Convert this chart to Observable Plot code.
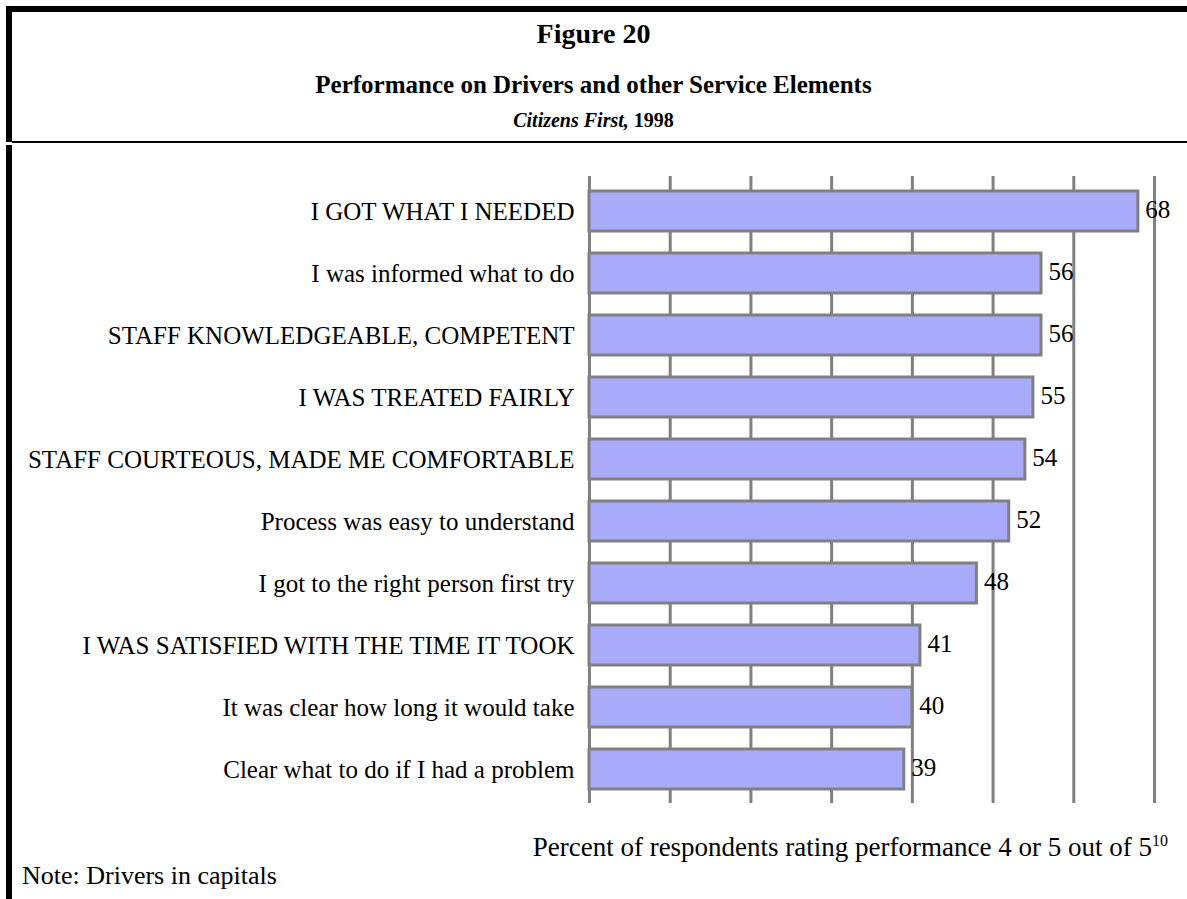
<!DOCTYPE html>
<html>
<head>
<meta charset="utf-8">
<script src="https://cdn.jsdelivr.net/npm/d3@7"></script>
<script src="https://cdn.jsdelivr.net/npm/@observablehq/plot@0.6"></script>
<style>
  html, body { margin: 0; padding: 0; background: #fff; }
  #page { position: relative; width: 1187px; height: 899px; overflow: hidden; font-family: "Liberation Serif", "Times New Roman", serif; color: #000; }
  .abs { position: absolute; }
  .title { left: 0; width: 1187px; text-align: center; font-weight: bold; white-space: nowrap; }
  #chart { position: absolute; left: 0; top: 160px; }
  #chart svg text { font-family: "Liberation Serif", "Times New Roman", serif; }
</style>
</head>
<body>
<div id="page">
  <div class="abs" style="left:6px;top:6px;width:1181px;height:6px;background:#000"></div>
  <div class="abs" style="left:6px;top:6px;width:6px;height:136px;background:#000"></div>
  <div class="abs" style="left:12px;top:141px;width:1175px;height:2px;background:#000"></div>
  <div class="abs" style="left:6px;top:145px;width:6px;height:754px;background:#000"></div>
  <div class="abs title" style="top:18px;font-size:28px;">Figure 20</div>
  <div class="abs title" style="top:71px;font-size:25px;">Performance on Drivers and other Service Elements</div>
  <div class="abs title" style="top:109px;font-size:20px;"><i>Citizens First,</i> 1998</div>
  <div id="chart"></div>
  <div class="abs" id="xlabel" style="right:19px;top:832px;font-size:27px;white-space:nowrap;">Percent of respondents rating performance 4 or 5 out of 5<sup style="font-size:16px;">10</sup></div>
  <div class="abs" style="left:22px;top:861px;font-size:26px;white-space:nowrap;">Note: Drivers in capitals</div>
</div>
<script>
const labels = [
  "I GOT WHAT I NEEDED",
  "I was informed what to do",
  "STAFF KNOWLEDGEABLE, COMPETENT",
  "I WAS TREATED FAIRLY",
  "STAFF COURTEOUS, MADE ME COMFORTABLE",
  "Process was easy to understand",
  "I got to the right person first try",
  "I WAS SATISFIED WITH THE TIME IT TOOK",
  "It was clear how long it would take",
  "Clear what to do if I had a problem"
];
const values = [68, 56, 56, 55, 54, 52, 48, 41, 40, 39];
const gridTicks = [0, 10, 20, 30, 40, 50, 60, 70];

const data = labels.map((label, i) => ({label, value: values[i]}));

const chart = Plot.plot({
  width: 1187,
  height: 660,
  marginTop: 16,
  marginBottom: 17,
  marginLeft: 589,
  marginRight: 33,
  style: "font-family: 'Liberation Serif', 'Times New Roman', serif; font-size: 25px; color: #000; background: transparent;",
  x: {domain: [0, 70], axis: null},
  y: {domain: labels, paddingInner: 0.36, paddingOuter: 0.17, label: null},
  marks: [
    Plot.ruleX(gridTicks, {x: d => d, stroke: "#808080", strokeWidth: 3}),
    Plot.barX(data, {x: "value", y: "label", fill: "#aaaafa", stroke: "#808080", strokeWidth: 3}),
    Plot.text(data, {x: "value", y: "label", text: d => String(d.value), textAnchor: "start", dx: 7, dy: -2, fontSize: 25, fill: "#000"}),
    Plot.axisY({tickSize: 0, tickPadding: 15, fontSize: 25, label: null})
  ]
});
document.getElementById("chart").appendChild(chart);
</script>
</body>
</html>
